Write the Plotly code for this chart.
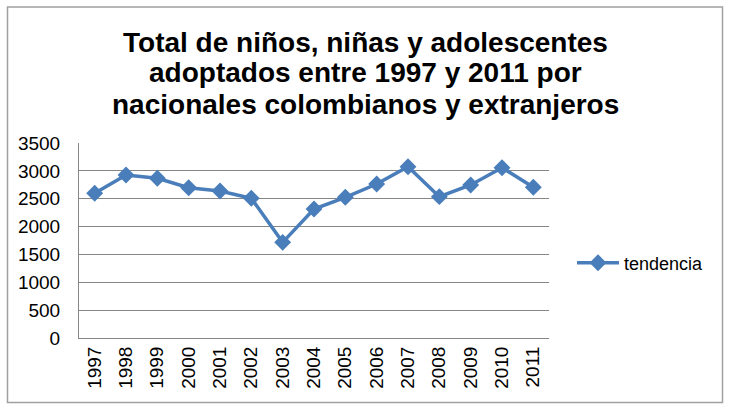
import plotly.graph_objects as go

years = ["1997", "1998", "1999", "2000", "2001", "2002", "2003", "2004",
         "2005", "2006", "2007", "2008", "2009", "2010", "2011"]
tendencia = [2597, 2926, 2866, 2698, 2638, 2507, 1717, 2315,
             2525, 2764, 3075, 2537, 2746, 3057, 2705]
y_ticks = [0, 500, 1000, 1500, 2000, 2500, 3000, 3500]
title_lines = ["Total de niños, niñas y adolescentes",
               "adoptados entre 1997 y 2011 por",
               "nacionales colombianos y extranjeros"]

blue = "#4a7ebb"
font = "Liberation Sans, Arial, sans-serif"

fig = go.Figure()
fig.add_trace(go.Scatter(
    x=years, y=tendencia, name="tendencia", mode="lines+markers",
    line=dict(color=blue, width=3.5),
    marker=dict(symbol="diamond", size=13, color=blue),
))

W, H = 730, 412
L, R, T, B = 79, 181, 143, 74
pw, ph = W - L - R, H - T - B

def px_x(x):
    return (x - L) / pw

def px_y(y):
    return (H - B - y) / ph

annotations = []
for i, line in enumerate(title_lines):
    annotations.append(dict(
        text="<b>" + line + "</b>", x=px_x(365), y=px_y(42 + 31 * i),
        xref="paper", yref="paper", xanchor="center", yanchor="middle",
        showarrow=False, font=dict(family=font, size=28, color="black"),
    ))

fig.update_layout(
    width=W, height=H,
    margin=dict(l=L, r=R, t=T, b=B),
    paper_bgcolor="white", plot_bgcolor="white",
    font=dict(family=font, size=18, color="black"),
    showlegend=True,
    annotations=annotations,
    xaxis=dict(
        type="category", tickangle=-90, showgrid=False,
        showline=True, linecolor="#868686", linewidth=1,
        ticks="", tickfont=dict(size=19),
        range=[-0.5, len(years) - 0.5],
    ),
    yaxis=dict(
        range=[0, 3500], tickvals=y_ticks, showgrid=True,
        gridcolor="#868686", gridwidth=1,
        showline=True, linecolor="#868686", linewidth=1,
        zeroline=False, ticks="", ticklabelstandoff=14,
        tickfont=dict(size=19),
    ),
    legend=dict(
        x=px_x(572), xanchor="left", y=px_y(263), yanchor="middle",
        font=dict(size=18), bgcolor="rgba(0,0,0,0)", itemwidth=42,
    ),
    shapes=[dict(
        type="rect", xref="paper", yref="paper",
        x0=px_x(7.5), x1=px_x(722.5), y0=px_y(402.5), y1=px_y(7),
        line=dict(color="#a0a0a0", width=1.5), fillcolor="rgba(0,0,0,0)",
        layer="below",
    )],
)

fig.write_html("out.html")
